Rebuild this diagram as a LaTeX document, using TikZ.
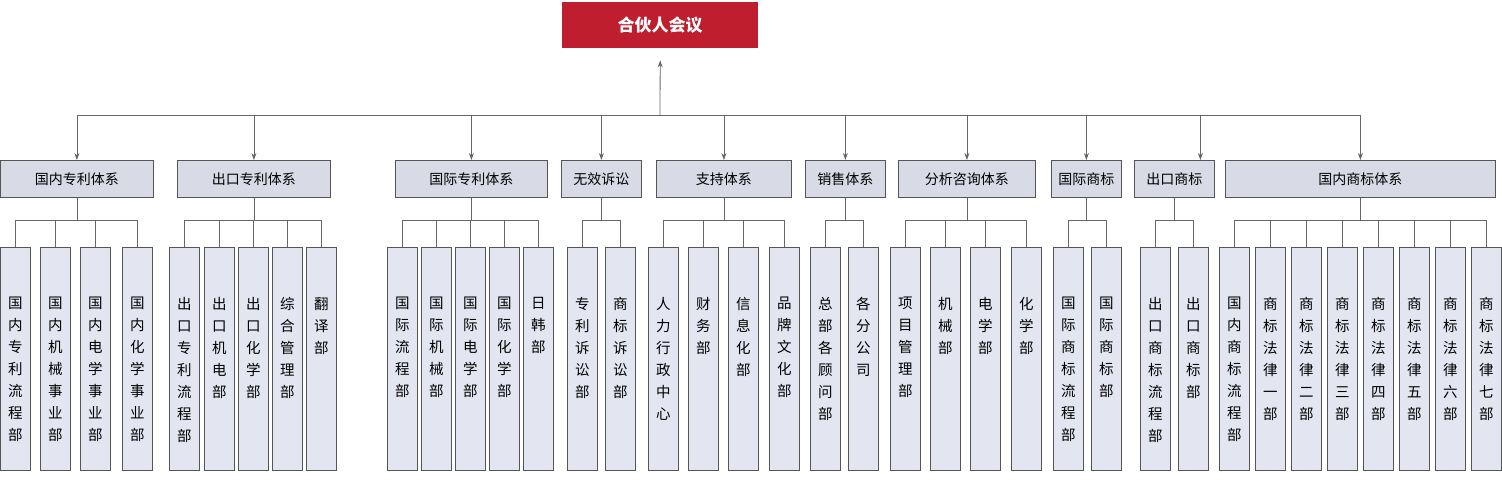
\documentclass[tikz,border=0pt]{standalone}
\usepackage{fontspec}
\setmainfont{Noto Sans CJK SC}
\usetikzlibrary{arrows.meta}
\definecolor{boxfill}{HTML}{E3E6F0}
\definecolor{headfill}{HTML}{D8DBE5}
\definecolor{boxline}{HTML}{555555}
\definecolor{topred}{HTML}{BE1E2D}
\tikzset{
 conn/.style={draw=boxline!90, line width=0.8pt},
 arr/.style={conn, -{Stealth[length=7pt,width=5pt]}},
 headbox/.style={draw=boxline, line width=0.8pt, fill=headfill, minimum height=37pt, anchor=north west, inner sep=0pt, font=\fontsize{14}{16}\selectfont},
 childbox/.style={draw=boxline, line width=0.8pt, fill=boxfill, minimum width=30pt, minimum height=223pt, anchor=north west, inner sep=0pt},
 vtext/.style={anchor=north, align=center, inner sep=0pt, font=\fontsize{14.5}{22}\selectfont},
}
\begin{document}
\begin{tikzpicture}[x=1pt,y=-1pt]
\useasboundingbox (0,0) rectangle (1502,480);
\node[fill=topred, minimum width=196pt, minimum height=46pt, anchor=north west, text=white, font=\fontsize{17}{20}\selectfont\bfseries] (top) at (562,2) {合伙人会议};
\coordinate (busc) at (660,115);
\draw[arr] (busc) -- ([yshift=-12pt]top.south);
% headers
\foreach \x/\w/\n/\t in {0/153/h1/国内专利体系,177/153/h2/出口专利体系,395/152/h3/国际专利体系,561/80/h4/无效诉讼,656/135/h5/支持体系,805/80/h6/销售体系,898/137/h7/分析咨询体系,1051/70/h8/国际商标,1134/80/h9/出口商标,1225/270/h10/国内商标体系}{
 \node[headbox, minimum width=\w pt] (\n) at (\x,160) {\t};
}
\draw[conn] (h1.north |- busc) -- (h10.north |- busc);
\foreach \n in {h1,h2,h3,h4,h5,h6,h7,h8,h10}{
 \draw[arr] (\n.north |- busc) -- (\n.north);
}
\draw[arr] ([xshift=26pt]h9.north |- busc) -- ([xshift=26pt]h9.north);
% children
\foreach \x/\p/\t in {
 0/h1/{国\\内\\专\\利\\流\\程\\部},40/h1/{国\\内\\机\\械\\事\\业\\部},80/h1/{国\\内\\电\\学\\事\\业\\部},122/h1/{国\\内\\化\\学\\事\\业\\部},
 169/h2/{出\\口\\专\\利\\流\\程\\部},204/h2/{出\\口\\机\\电\\部},238/h2/{出\\口\\化\\学\\部},272/h2/{综\\合\\管\\理\\部},306/h2/{翻\\译\\部},
 387/h3/{国\\际\\流\\程\\部},421/h3/{国\\际\\机\\械\\部},455/h3/{国\\际\\电\\学\\部},489/h3/{国\\际\\化\\学\\部},523/h3/{日\\韩\\部},
 567/h4/{专\\利\\诉\\讼\\部},605/h4/{商\\标\\诉\\讼\\部},
 648/h5/{人\\力\\行\\政\\中\\心},688/h5/{财\\务\\部},728/h5/{信\\息\\化\\部},769/h5/{品\\牌\\文\\化\\部},
 810/h6/{总\\部\\各\\顾\\问\\部},848/h6/{各\\分\\公\\司},
 890/h7/{项\\目\\管\\理\\部},930/h7/{机\\械\\部},970/h7/{电\\学\\部},1011/h7/{化\\学\\部},
 1053/h8/{国\\际\\商\\标\\流\\程\\部},1091/h8/{国\\际\\商\\标\\部},
 1140/h9/{出\\口\\商\\标\\流\\程\\部},1178/h9/{出\\口\\商\\标\\部},
 1219/h10/{国\\内\\商\\标\\流\\程\\部},1255/h10/{商\\标\\法\\律\\一\\部},1291/h10/{商\\标\\法\\律\\二\\部},1327/h10/{商\\标\\法\\律\\三\\部},1363/h10/{商\\标\\法\\律\\四\\部},1399/h10/{商\\标\\法\\律\\五\\部},1435/h10/{商\\标\\法\\律\\六\\部},1471/h10/{商\\标\\法\\律\\七\\部}}{
 \node[childbox] (c\x) at (\x,247) {};
 \node[vtext] (t\x) at ([yshift=-50pt]c\x.north) {\t};
 \draw[conn] (\p.south) -- (\p.south |- 0,220) -| (c\x.north);
}
\end{tikzpicture}
\end{document}
